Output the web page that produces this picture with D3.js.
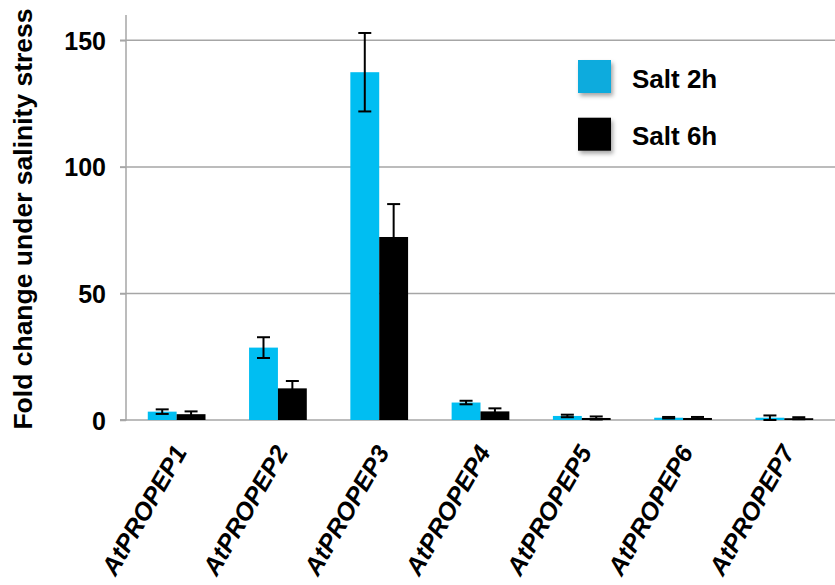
<!DOCTYPE html>
<html><head><meta charset="utf-8">
<script src="https://cdn.jsdelivr.net/npm/d3@7/dist/d3.min.js"></script>
<style>body{margin:0;background:#fff}svg{display:block}text{font-family:"Liberation Sans",Arial,sans-serif;font-weight:bold;fill:#000}</style>
</head><body><svg id="c" width="835" height="585"></svg>
<script>
const categories = ["AtPROPEP1","AtPROPEP2","AtPROPEP3","AtPROPEP4","AtPROPEP5","AtPROPEP6","AtPROPEP7"];
const seriesNames = ["Salt 2h","Salt 6h"];
const salt2h = [3.3, 28.6, 137.4, 6.9, 1.6, 0.9, 0.9];
const salt2hErr = [0.9, 4.1, 15.5, 0.7, 0.5, 0.3, 0.9];
const salt6h = [2.3, 12.5, 72.3, 3.4, 0.8, 0.8, 0.7];
const salt6hErr = [1.1, 2.9, 13.0, 1.2, 0.6, 0.4, 0.4];
const yTicks = [0, 50, 100, 150];
const colors = ["#00BEF2", "#000000"];
const legendColors = ["#0AABDD", "#000000"];

const svg = d3.select("#c");
const m = {l:126, r:835, t:15, b:420};
const x0 = d3.scaleBand().domain(categories).range([m.l, m.r]).paddingInner(0.43).paddingOuter(0.215);
const x1 = d3.scaleBand().domain(seriesNames).range([0, x0.bandwidth()]);
const y = d3.scaleLinear().domain([0,160]).range([m.b, m.t]);

const defs = svg.append("defs");
const f = defs.append("filter").attr("id","sh").attr("x","-20%").attr("y","-20%").attr("width","160%").attr("height","160%");
f.append("feDropShadow").attr("dx",2).attr("dy",3).attr("stdDeviation",2).attr("flood-color","#000").attr("flood-opacity",0.35);

// gridlines
svg.append("g").selectAll("line").data(yTicks.filter(d=>d>0)).join("line")
  .attr("x1", m.l-6).attr("x2", m.r).attr("y1", d=>y(d)).attr("y2", d=>y(d))
  .attr("stroke","#A6A6A6").attr("stroke-width",1.5);

// y axis
const yAxis = svg.append("g").attr("transform",`translate(${m.l},0)`)
  .call(d3.axisLeft(y).tickValues(yTicks).tickSize(6).tickPadding(14));
yAxis.select(".domain").attr("stroke","#A6A6A6").attr("stroke-width",1.5).attr("d",`M-6,${y(0)}H0V${m.t}`);
yAxis.selectAll(".tick line").attr("stroke","#A6A6A6").attr("stroke-width",1.5);
yAxis.selectAll(".tick text").style("font-size","25px").attr("dy","0.36em");

// x axis baseline
svg.append("line").attr("x1",m.l-6).attr("x2",m.r).attr("y1",y(0)).attr("y2",y(0))
  .attr("stroke","#A6A6A6").attr("stroke-width",1.5);

const data = categories.map((c,i)=>({c, vals:[
  {s:seriesNames[0], v:salt2h[i], e:salt2hErr[i], k:0},
  {s:seriesNames[1], v:salt6h[i], e:salt6hErr[i], k:1}]}));

const groups = svg.append("g").selectAll("g").data(data).join("g")
  .attr("transform", d=>`translate(${x0(d.c)},0)`);
groups.selectAll("rect").data(d=>d.vals).join("rect")
  .attr("x", d=>x1(d.s)).attr("width", x1.bandwidth())
  .attr("y", d=>y(d.v)).attr("height", d=>y(0)-y(d.v))
  .attr("fill", d=>colors[d.k]);

const eb = groups.selectAll("g.eb").data(d=>d.vals).join("g").attr("class","eb")
  .attr("transform", d=>`translate(${x1(d.s)+x1.bandwidth()/2},0)`);
eb.append("line").attr("x1",0).attr("x2",0).attr("y1",d=>y(d.v+d.e)).attr("y2",d=>y(Math.max(0,d.v-d.e)))
  .attr("stroke","#000").attr("stroke-width",2);
eb.append("line").attr("x1",-6.5).attr("x2",6.5).attr("y1",d=>y(d.v+d.e)).attr("y2",d=>y(d.v+d.e))
  .attr("stroke","#000").attr("stroke-width",2);
eb.append("line").attr("x1",-6.5).attr("x2",6.5).attr("y1",d=>y(Math.max(0,d.v-d.e))).attr("y2",d=>y(Math.max(0,d.v-d.e)))
  .attr("stroke","#000").attr("stroke-width",2);

// x labels
svg.append("g").selectAll("text").data(categories).join("text")
  .attr("transform", d=>`translate(${x0(d)+x0.bandwidth()/2+11},${y(0)+32}) rotate(-60)`)
  .attr("text-anchor","end").style("font-size","25px").style("font-style","italic").text(d=>d);

// y title
svg.append("text").attr("transform",`translate(32,219) rotate(-90)`)
  .attr("text-anchor","middle").style("font-size","26.5px").text("Fold change under salinity stress");

// legend
const lg = svg.append("g").selectAll("g").data(seriesNames).join("g")
  .attr("transform",(d,i)=>`translate(578,${60+i*57.7})`);
lg.append("rect").attr("width",33).attr("height",33).attr("fill",(d,i)=>legendColors[i]).attr("filter","url(#sh)");
lg.append("text").attr("x",54).attr("y",27.7).style("font-size","26px").text(d=>d);
</script></body></html>
